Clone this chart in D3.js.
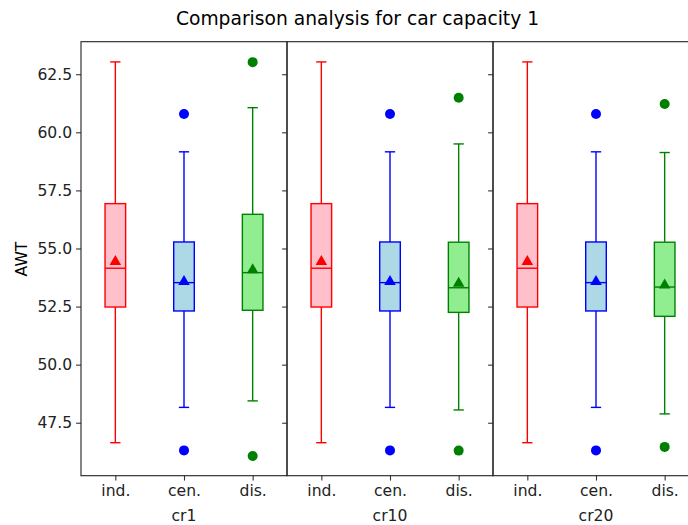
<!DOCTYPE html>
<html>
<head>
<meta charset="utf-8">
<script src="https://cdn.jsdelivr.net/npm/d3@7"></script>
<style>
  body { margin: 0; background: #fff; }
  svg { display: block; }
  svg text { font-family: "DejaVu Sans", sans-serif; }
</style>
</head>
<body>
<div id="chart"></div>
<script>
// groups (panels) and methods inside each panel
var panels = ['cr1', 'cr10', 'cr20'];
var methods = ['ind.', 'cen.', 'dis.'];
var yTicks = [47.5, 50.0, 52.5, 55.0, 57.5, 60.0, 62.5];

// box stats, one row per panel, one entry per method
var whiskerLow = [[46.64, 48.16, 48.44], [46.64, 48.16, 48.05], [46.64, 48.16, 47.88]];
var q1 = [[52.48, 52.31, 52.34], [52.48, 52.31, 52.25], [52.48, 52.31, 52.08]];
var median = [[54.15, 53.53, 53.96], [54.15, 53.53, 53.31], [54.15, 53.53, 53.34]];
var q3 = [[56.93, 55.28, 56.47], [56.93, 55.28, 55.27], [56.93, 55.28, 55.27]];
var whiskerHigh = [[63.03, 59.16, 61.06], [63.03, 59.16, 59.5], [63.03, 59.16, 59.13]];
var means = [[54.43, 53.57, 54.08], [54.43, 53.57, 53.5], [54.43, 53.57, 53.42]];
var fliers = [
  [[], [60.79, 46.31], [63.02, 46.07]],
  [[], [60.79, 46.31], [61.49, 46.3]],
  [[], [60.79, 46.31], [61.22, 46.46]]
];

var faceColors = ['pink', 'lightblue', 'lightgreen'];
var edgeColors = ['red', 'blue', 'green'];

var width = 688, height = 525;
var margin = { top: 41.7, left: 81, bottom: 475.7 };
var panelW = 206;
var fs = '15.6px';

var svg = d3.select('#chart').append('svg')
  .attr('width', width)
  .attr('height', height);

var y = d3.scaleLinear()
  .domain([45.22, 63.9])
  .range([margin.bottom, margin.top]);

svg.append('text')
  .attr('x', 357.5)
  .attr('y', 25)
  .attr('text-anchor', 'middle')
  .style('font-size', '18.7px')
  .text('Comparison analysis for car capacity 1');

svg.append('text')
  .attr('transform', 'translate(27,259) rotate(-90)')
  .attr('text-anchor', 'middle')
  .style('font-size', fs)
  .text('AWT');

panels.forEach(function (p, pi) {
  var x0 = margin.left + pi * panelW;
  var x = d3.scaleLinear()
    .domain([0.5, 3.5])
    .range([x0, x0 + panelW]);
  var unit = panelW / 3;
  var boxW = 0.3 * unit;
  var capW = 0.15 * unit;

  var g = svg.append('g');

  // y axis (labels only on the first panel)
  var yAxis = d3.axisLeft(y).tickValues(yTicks).tickSizeOuter(0).tickSize(4.9).tickPadding(4)
    .tickFormat(pi === 0 ? d3.format('.1f') : '');
  var ya = g.append('g').attr('transform', 'translate(' + x0 + ',0)').call(yAxis)
    .attr('font-family', null).attr('font-size', null);
  ya.select('.domain').remove();
  ya.selectAll('line').attr('stroke', '#333').attr('stroke-width', 1.1);
  ya.selectAll('text').style('font-size', fs).attr('fill', '#222');

  var xAxis = d3.axisBottom(x).tickValues([1, 2, 3]).tickSize(4.9).tickPadding(4)
    .tickFormat(function (d) { return methods[d - 1]; });
  var xa = g.append('g').attr('transform', 'translate(0,' + margin.bottom + ')').call(xAxis)
    .attr('font-family', null).attr('font-size', null);
  xa.select('.domain').remove();
  xa.selectAll('line').attr('stroke', '#333').attr('stroke-width', 1.1);
  xa.selectAll('text').style('font-size', fs).attr('fill', '#222');

  g.append('text')
    .attr('x', x(2))
    .attr('y', 521)
    .attr('text-anchor', 'middle')
    .style('font-size', fs)
    .attr('fill', '#222')
    .text(p);

  methods.forEach(function (m, mi) {
    var cx = x(mi + 1);
    var ec = edgeColors[mi];
    // whiskers
    g.append('line').attr('x1', cx).attr('x2', cx)
      .attr('y1', y(q3[pi][mi])).attr('y2', y(whiskerHigh[pi][mi]))
      .attr('stroke', ec).attr('stroke-width', 1.4);
    g.append('line').attr('x1', cx).attr('x2', cx)
      .attr('y1', y(q1[pi][mi])).attr('y2', y(whiskerLow[pi][mi]))
      .attr('stroke', ec).attr('stroke-width', 1.4);
    // caps
    [whiskerHigh[pi][mi], whiskerLow[pi][mi]].forEach(function (v) {
      g.append('line').attr('x1', cx - capW / 2).attr('x2', cx + capW / 2)
        .attr('y1', y(v)).attr('y2', y(v))
        .attr('stroke', ec).attr('stroke-width', 1.4);
    });
    // box
    g.append('rect')
      .attr('x', cx - boxW / 2)
      .attr('y', y(q3[pi][mi]))
      .attr('width', boxW)
      .attr('height', y(q1[pi][mi]) - y(q3[pi][mi]))
      .attr('fill', faceColors[mi])
      .attr('stroke', ec)
      .attr('stroke-width', 1.4);
    // median
    g.append('line').attr('x1', cx - boxW / 2).attr('x2', cx + boxW / 2)
      .attr('y1', y(median[pi][mi])).attr('y2', y(median[pi][mi]))
      .attr('stroke', ec).attr('stroke-width', 1.4);
    // mean marker
    g.append('path')
      .attr('d', d3.symbol().type(d3.symbolTriangle).size(58)())
      .attr('transform', 'translate(' + cx + ',' + y(means[pi][mi]) + ')')
      .attr('fill', ec);
    // fliers
    fliers[pi][mi].forEach(function (v) {
      g.append('circle')
        .attr('cx', cx).attr('cy', y(v)).attr('r', 5)
        .attr('fill', ec);
    });
  });

  // frame
  g.append('rect')
    .attr('x', x0).attr('y', margin.top)
    .attr('width', panelW).attr('height', margin.bottom - margin.top)
    .attr('fill', 'none')
    .attr('stroke', '#222')
    .attr('stroke-width', 1.1);
});
</script>
</body>
</html>
